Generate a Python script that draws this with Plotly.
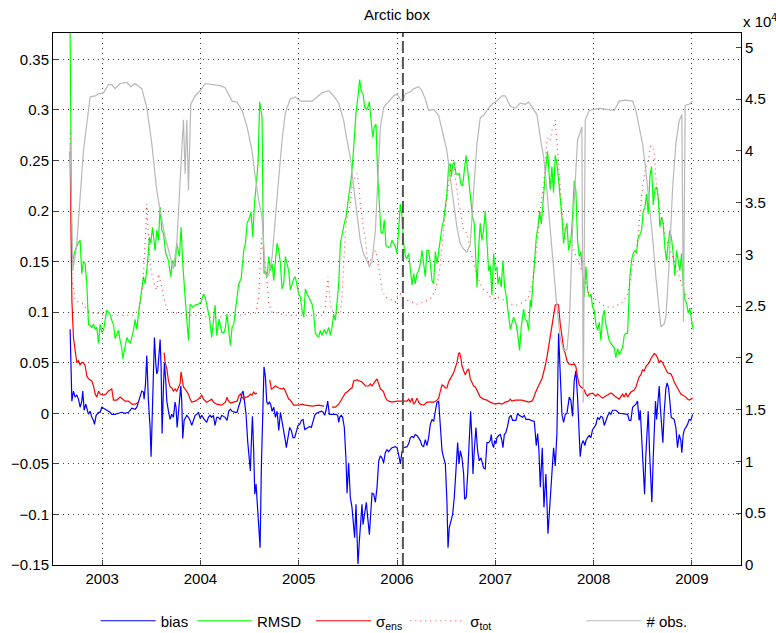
import plotly.graph_objects as go

# ---------------- data (decimal year, value) ----------------
bias = [
 (2002.674,0.083),(2002.692,0.012),(2002.708,0.022),(2002.725,0.016),(2002.742,0.018),(2002.759,0.014),
 (2002.776,0.006),(2002.793,0.012),(2002.803,0.022),(2002.817,0.003),(2002.834,0.009),(2002.844,0.006),
 (2002.861,-0.001),(2002.878,0.002),(2002.895,-0.004),(2002.912,-0.007),(2002.922,-0.011),(2002.939,-0.002),
 (2002.963,0.001),(2002.980,0.001),(2002.997,0.006),(2003.014,0.005),(2003.031,0.004),(2003.047,0.003),
 (2003.081,0.001),(2003.098,-0.001),(2003.132,-0.001),(2003.166,0.000),(2003.200,0.001),(2003.234,0.000),
 (2003.268,0.001),(2003.302,0.005),(2003.336,0.004),(2003.353,0.006),(2003.369,0.012),(2003.386,0.017),
 (2003.403,0.022),(2003.420,0.021),(2003.427,0.014),(2003.441,0.029),(2003.454,0.057),(2003.471,0.012),
 (2003.488,-0.014),(2003.498,-0.043),(2003.512,0.003),(2003.522,0.046),(2003.532,0.075),(2003.546,0.049),
 (2003.556,0.039),(2003.566,0.042),(2003.580,0.065),(2003.590,0.073),(2003.600,0.045),(2003.610,-0.020),
 (2003.624,0.027),(2003.634,0.050),(2003.647,0.032),(2003.658,0.012),(2003.675,0.002),(2003.692,-0.006),
 (2003.708,-0.001),(2003.725,-0.004),(2003.742,0.011),(2003.752,0.006),(2003.763,-0.014),(2003.776,-0.002),
 (2003.786,0.012),(2003.800,0.027),(2003.810,0.012),(2003.820,-0.025),(2003.834,-0.007),(2003.847,-0.004),
 (2003.861,-0.002),(2003.878,-0.004),(2003.895,-0.007),(2003.912,-0.012),(2003.929,-0.007),(2003.946,-0.002),
 (2003.963,-0.001),(2003.980,0.001),(2003.997,-0.005),(2004.014,-0.002),(2004.031,-0.005),(2004.047,-0.007),
 (2004.064,-0.009),(2004.081,-0.004),(2004.098,-0.002),(2004.115,-0.004),(2004.132,-0.002),(2004.149,-0.012),
 (2004.166,-0.004),(2004.183,-0.004),(2004.200,-0.006),(2004.217,-0.002),(2004.234,-0.003),(2004.251,-0.004),
 (2004.271,-0.007),(2004.288,0.002),(2004.305,0.004),(2004.322,0.002),(2004.356,0.001),(2004.373,0.001),
 (2004.390,0.007),(2004.407,0.012),(2004.424,0.020),(2004.434,0.022),(2004.448,0.012),(2004.464,-0.001),
 (2004.481,-0.028),(2004.498,-0.047),(2004.508,-0.057),(2004.519,-0.027),(2004.529,-0.003),(2004.542,-0.037),
 (2004.553,-0.080),(2004.566,-0.070),(2004.580,-0.090),(2004.593,-0.113),(2004.607,-0.133),(2004.620,-0.053),
 (2004.634,0.003),(2004.647,0.046),(2004.661,0.036),(2004.675,0.011),(2004.688,0.009),(2004.702,0.011),
 (2004.715,0.009),(2004.729,0.002),(2004.746,0.006),(2004.763,-0.004),(2004.780,0.002),(2004.797,-0.017),
 (2004.814,0.001),(2004.830,-0.007),(2004.847,-0.017),(2004.864,-0.027),(2004.874,-0.034),(2004.891,-0.024),
 (2004.908,-0.014),(2004.925,-0.017),(2004.942,-0.024),(2004.959,-0.024),(2004.976,-0.019),(2004.993,-0.012),
 (2005.010,-0.011),(2005.027,-0.007),(2005.044,-0.006),(2005.061,-0.016),(2005.095,-0.014),(2005.112,-0.013),
 (2005.129,-0.014),(2005.146,-0.007),(2005.163,-0.002),(2005.180,0.000),(2005.214,0.001),(2005.231,0.002),
 (2005.248,0.001),(2005.264,-0.002),(2005.278,0.003),(2005.295,0.012),(2005.312,-0.001),(2005.346,-0.001),
 (2005.380,-0.001),(2005.397,-0.002),(2005.407,-0.009),(2005.417,-0.004),(2005.434,-0.002),(2005.447,-0.004),
 (2005.464,-0.014),(2005.481,-0.046),(2005.492,-0.079),(2005.508,-0.049),(2005.525,-0.083),(2005.542,-0.093),
 (2005.556,-0.106),(2005.569,-0.123),(2005.583,-0.090),(2005.593,-0.120),(2005.603,-0.149),(2005.617,-0.126),
 (2005.630,-0.103),(2005.644,-0.090),(2005.654,-0.110),(2005.668,-0.100),(2005.678,-0.090),(2005.688,-0.088),
 (2005.702,-0.103),(2005.719,-0.120),(2005.732,-0.100),(2005.746,-0.079),(2005.763,-0.080),(2005.780,-0.088),
 (2005.797,-0.073),(2005.814,-0.047),(2005.831,-0.042),(2005.847,-0.044),(2005.864,-0.049),(2005.881,-0.039),
 (2005.898,-0.036),(2005.915,-0.038),(2005.932,-0.036),(2005.949,-0.034),(2005.983,-0.033),(2006.000,-0.034),
 (2006.017,-0.041),(2006.034,-0.050),(2006.051,-0.038),(2006.068,-0.034),(2006.102,-0.033),(2006.119,-0.030),
 (2006.136,-0.024),(2006.153,-0.023),(2006.169,-0.024),(2006.186,-0.021),(2006.203,-0.022),(2006.220,-0.025),
 (2006.237,-0.027),(2006.254,-0.032),(2006.271,-0.033),(2006.288,-0.026),(2006.305,-0.032),(2006.322,-0.024),
 (2006.339,-0.011),(2006.356,-0.006),(2006.373,-0.008),(2006.390,0.002),(2006.407,0.011),(2006.424,0.012),
 (2006.441,-0.008),(2006.458,-0.037),(2006.475,-0.044),(2006.492,-0.050),(2006.508,-0.087),(2006.519,-0.133),
 (2006.532,-0.113),(2006.549,-0.105),(2006.566,-0.100),(2006.583,-0.083),(2006.600,-0.057),(2006.617,-0.029),
 (2006.631,-0.050),(2006.644,-0.037),(2006.661,-0.044),(2006.678,-0.060),(2006.688,-0.085),(2006.705,-0.083),
 (2006.719,-0.060),(2006.736,-0.027),(2006.749,0.002),(2006.763,-0.027),(2006.773,-0.060),(2006.786,-0.037),
 (2006.803,-0.014),(2006.820,-0.037),(2006.837,-0.047),(2006.854,-0.044),(2006.868,-0.050),(2006.881,-0.054),
 (2006.898,-0.055),(2006.915,-0.029),(2006.932,-0.029),(2006.949,-0.027),(2006.959,-0.021),(2006.969,-0.030),
 (2006.983,-0.034),(2006.993,-0.027),(2007.007,-0.030),(2007.017,-0.024),(2007.034,-0.022),(2007.051,-0.021),
 (2007.068,-0.027),(2007.078,-0.034),(2007.092,-0.021),(2007.108,-0.019),(2007.125,-0.013),(2007.142,-0.004),
 (2007.159,-0.002),(2007.176,-0.007),(2007.210,-0.007),(2007.227,0.000),(2007.244,-0.002),(2007.278,-0.004),
 (2007.295,-0.002),(2007.312,-0.006),(2007.346,-0.006),(2007.363,-0.007),(2007.397,-0.008),(2007.407,-0.017),
 (2007.417,-0.032),(2007.431,-0.020),(2007.444,-0.037),(2007.458,-0.073),(2007.468,-0.043),(2007.478,-0.034),
 (2007.495,-0.093),(2007.505,-0.070),(2007.515,-0.060),(2007.525,-0.087),(2007.536,-0.119),(2007.549,-0.100),
 (2007.559,-0.087),(2007.576,-0.064),(2007.593,-0.034),(2007.610,-0.052),(2007.627,-0.020),(2007.644,0.079),
 (2007.661,0.039),(2007.678,-0.001),(2007.695,-0.009),(2007.712,-0.001),(2007.729,0.000),(2007.746,0.014),
 (2007.753,0.016),(2007.769,0.013),(2007.786,-0.003),(2007.803,0.032),(2007.820,0.042),(2007.837,0.016),
 (2007.854,-0.021),(2007.864,-0.043),(2007.878,-0.031),(2007.895,-0.027),(2007.912,-0.032),(2007.922,-0.027),
 (2007.939,-0.024),(2007.956,-0.022),(2007.973,-0.024),(2007.990,-0.016),(2008.007,-0.014),(2008.024,-0.011),
 (2008.041,-0.004),(2008.058,-0.006),(2008.075,-0.003),(2008.092,-0.004),(2008.109,-0.012),(2008.125,-0.007),
 (2008.142,-0.003),(2008.159,0.001),(2008.176,-0.001),(2008.193,0.003),(2008.227,0.003),(2008.261,0.000),
 (2008.346,-0.001),(2008.363,-0.007),(2008.380,-0.007),(2008.397,0.006),(2008.431,0.009),(2008.447,0.012),
 (2008.464,-0.007),(2008.475,0.003),(2008.488,-0.018),(2008.505,-0.053),(2008.519,-0.080),(2008.532,-0.041),
 (2008.546,-0.007),(2008.556,0.002),(2008.569,-0.037),(2008.583,-0.070),(2008.593,-0.088),(2008.607,-0.044),
 (2008.620,-0.004),(2008.630,0.012),(2008.641,-0.006),(2008.654,0.012),(2008.668,0.027),(2008.678,0.008),
 (2008.692,-0.011),(2008.705,-0.029),(2008.719,0.002),(2008.736,0.025),(2008.749,0.030),(2008.763,0.025),
 (2008.776,0.012),(2008.790,-0.004),(2008.820,-0.006),(2008.837,-0.014),(2008.854,-0.034),(2008.871,-0.021),
 (2008.888,-0.027),(2008.898,-0.039),(2008.912,-0.021),(2008.925,-0.016),(2008.939,-0.014),(2008.956,-0.011),
 (2008.973,-0.006),(2008.990,-0.007),(2009.007,-0.001),
]

rmsd = [
 (2002.674,0.380),(2002.692,0.148),(2002.725,0.161),(2002.759,0.169),(2002.776,0.171),(2002.793,0.138),
 (2002.810,0.150),(2002.827,0.148),(2002.844,0.128),(2002.861,0.088),(2002.878,0.087),(2002.895,0.085),
 (2002.912,0.088),(2002.929,0.083),(2002.946,0.085),(2002.963,0.069),(2002.980,0.088),(2002.997,0.080),
 (2003.014,0.082),(2003.031,0.095),(2003.047,0.102),(2003.064,0.100),(2003.081,0.098),(2003.098,0.092),
 (2003.115,0.088),(2003.132,0.074),(2003.149,0.078),(2003.166,0.082),(2003.183,0.072),(2003.200,0.064),
 (2003.210,0.054),(2003.234,0.069),(2003.251,0.075),(2003.268,0.072),(2003.285,0.069),(2003.302,0.075),
 (2003.319,0.082),(2003.336,0.093),(2003.353,0.083),(2003.369,0.098),(2003.386,0.112),(2003.403,0.125),
 (2003.420,0.135),(2003.437,0.128),(2003.461,0.148),(2003.481,0.174),(2003.495,0.168),(2003.512,0.184),
 (2003.539,0.161),(2003.556,0.181),(2003.573,0.171),(2003.590,0.204),(2003.607,0.181),(2003.624,0.178),
 (2003.647,0.158),(2003.675,0.151),(2003.698,0.135),(2003.715,0.151),(2003.742,0.145),(2003.759,0.168),
 (2003.786,0.155),(2003.803,0.184),(2003.820,0.148),(2003.844,0.115),(2003.861,0.095),(2003.878,0.072),
 (2003.895,0.108),(2003.922,0.105),(2003.946,0.107),(2003.980,0.108),(2004.007,0.110),(2004.031,0.118),
 (2004.047,0.115),(2004.071,0.105),(2004.091,0.095),(2004.115,0.075),(2004.149,0.107),(2004.166,0.077),
 (2004.190,0.093),(2004.217,0.080),(2004.241,0.080),(2004.254,0.085),(2004.271,0.098),(2004.288,0.082),
 (2004.305,0.067),(2004.322,0.085),(2004.339,0.088),(2004.356,0.102),(2004.390,0.128),(2004.414,0.133),
 (2004.441,0.161),(2004.458,0.168),(2004.475,0.188),(2004.498,0.193),(2004.515,0.199),(2004.532,0.174),
 (2004.549,0.207),(2004.566,0.224),(2004.586,0.247),(2004.603,0.308),(2004.617,0.300),(2004.627,0.293),
 (2004.637,0.194),(2004.647,0.138),(2004.661,0.141),(2004.678,0.135),(2004.695,0.155),(2004.712,0.141),
 (2004.729,0.148),(2004.746,0.131),(2004.763,0.151),(2004.780,0.168),(2004.797,0.161),(2004.814,0.148),
 (2004.830,0.123),(2004.847,0.128),(2004.864,0.155),(2004.881,0.148),(2004.898,0.141),(2004.915,0.122),
 (2004.932,0.128),(2004.949,0.133),(2004.966,0.135),(2004.983,0.125),(2005.000,0.118),(2005.017,0.115),
 (2005.034,0.102),(2005.051,0.095),(2005.068,0.123),(2005.085,0.118),(2005.102,0.115),(2005.119,0.112),
 (2005.136,0.108),(2005.153,0.098),(2005.169,0.079),(2005.186,0.077),(2005.203,0.075),(2005.220,0.082),
 (2005.237,0.077),(2005.261,0.083),(2005.281,0.078),(2005.305,0.085),(2005.322,0.077),(2005.339,0.085),
 (2005.356,0.098),(2005.373,0.092),(2005.407,0.128),(2005.424,0.168),(2005.441,0.178),(2005.464,0.188),
 (2005.481,0.194),(2005.502,0.210),(2005.519,0.220),(2005.536,0.234),(2005.553,0.254),(2005.569,0.280),
 (2005.583,0.297),(2005.603,0.313),(2005.620,0.330),(2005.637,0.318),(2005.654,0.316),(2005.671,0.303),
 (2005.688,0.300),(2005.705,0.303),(2005.719,0.308),(2005.736,0.290),(2005.753,0.273),(2005.769,0.283),
 (2005.786,0.286),(2005.803,0.237),(2005.820,0.200),(2005.837,0.179),(2005.854,0.178),(2005.871,0.191),
 (2005.888,0.166),(2005.915,0.164),(2005.932,0.165),(2005.949,0.171),(2005.966,0.168),(2005.983,0.165),
 (2006.000,0.158),(2006.017,0.181),(2006.034,0.207),(2006.051,0.194),(2006.068,0.168),(2006.085,0.155),
 (2006.102,0.153),(2006.119,0.158),(2006.136,0.145),(2006.153,0.127),(2006.169,0.138),(2006.186,0.128),
 (2006.203,0.138),(2006.220,0.141),(2006.237,0.148),(2006.254,0.161),(2006.271,0.148),(2006.288,0.135),
 (2006.305,0.161),(2006.322,0.161),(2006.339,0.148),(2006.356,0.131),(2006.373,0.128),(2006.390,0.160),
 (2006.407,0.148),(2006.424,0.160),(2006.441,0.174),(2006.458,0.184),(2006.475,0.191),(2006.492,0.204),
 (2006.508,0.217),(2006.525,0.244),(2006.542,0.247),(2006.553,0.234),(2006.569,0.247),(2006.583,0.248),
 (2006.600,0.237),(2006.617,0.236),(2006.634,0.237),(2006.651,0.226),(2006.668,0.225),(2006.685,0.240),
 (2006.702,0.255),(2006.719,0.240),(2006.736,0.224),(2006.753,0.202),(2006.769,0.194),(2006.786,0.188),
 (2006.803,0.155),(2006.814,0.125),(2006.831,0.164),(2006.847,0.188),(2006.864,0.171),(2006.881,0.181),
 (2006.898,0.200),(2006.915,0.168),(2006.932,0.141),(2006.949,0.146),(2006.966,0.117),(2006.983,0.158),
 (2007.000,0.141),(2007.017,0.145),(2007.027,0.128),(2007.044,0.135),(2007.061,0.125),(2007.078,0.151),
 (2007.095,0.125),(2007.112,0.115),(2007.129,0.102),(2007.153,0.083),(2007.186,0.095),(2007.210,0.089),
 (2007.227,0.079),(2007.247,0.062),(2007.264,0.085),(2007.288,0.103),(2007.305,0.093),(2007.322,0.091),
 (2007.339,0.082),(2007.356,0.112),(2007.366,0.105),(2007.383,0.128),(2007.400,0.155),(2007.417,0.174),
 (2007.434,0.184),(2007.451,0.200),(2007.468,0.187),(2007.485,0.210),(2007.502,0.224),(2007.515,0.244),
 (2007.532,0.259),(2007.549,0.231),(2007.559,0.221),(2007.576,0.244),(2007.593,0.218),(2007.610,0.255),
 (2007.627,0.247),(2007.644,0.231),(2007.661,0.214),(2007.678,0.194),(2007.695,0.168),(2007.712,0.181),
 (2007.729,0.188),(2007.746,0.161),(2007.769,0.171),(2007.786,0.194),(2007.803,0.230),(2007.820,0.220),
 (2007.837,0.171),(2007.854,0.155),(2007.871,0.160),(2007.888,0.141),(2007.905,0.115),(2007.922,0.145),
 (2007.939,0.122),(2007.956,0.115),(2007.973,0.118),(2007.990,0.105),(2008.007,0.102),(2008.024,0.088),
 (2008.041,0.082),(2008.058,0.090),(2008.075,0.072),(2008.092,0.095),(2008.109,0.102),(2008.125,0.088),
 (2008.142,0.079),(2008.159,0.072),(2008.176,0.069),(2008.193,0.067),(2008.210,0.065),(2008.227,0.055),
 (2008.244,0.064),(2008.261,0.058),(2008.278,0.062),(2008.295,0.065),(2008.312,0.077),(2008.329,0.079),
 (2008.346,0.079),(2008.356,0.112),(2008.369,0.135),(2008.386,0.151),(2008.403,0.158),(2008.420,0.161),
 (2008.437,0.158),(2008.454,0.174),(2008.471,0.176),(2008.488,0.181),(2008.505,0.200),(2008.522,0.203),
 (2008.539,0.217),(2008.556,0.197),(2008.573,0.234),(2008.590,0.244),(2008.607,0.206),(2008.624,0.221),
 (2008.641,0.224),(2008.658,0.214),(2008.675,0.184),(2008.692,0.194),(2008.708,0.188),(2008.725,0.164),
 (2008.742,0.151),(2008.759,0.168),(2008.776,0.181),(2008.793,0.173),(2008.810,0.158),(2008.827,0.136),
 (2008.844,0.161),(2008.861,0.151),(2008.878,0.141),(2008.895,0.158),(2008.912,0.128),(2008.929,0.112),
 (2008.946,0.109),(2008.963,0.099),(2008.980,0.104),(2008.997,0.092),(2009.014,0.083),
]

sigma_ens = [
 (2002.674,0.259),(2002.692,0.112),(2002.708,0.075),(2002.725,0.059),(2002.742,0.050),(2002.759,0.052),
 (2002.776,0.048),(2002.793,0.050),(2002.810,0.050),(2002.827,0.047),(2002.844,0.037),(2002.861,0.034),
 (2002.895,0.032),(2002.912,0.027),(2002.929,0.019),(2002.946,0.016),(2002.963,0.022),(2002.980,0.019),
 (2003.014,0.018),(2003.041,0.019),(2003.064,0.022),(2003.098,0.024),(2003.115,0.013),(2003.149,0.013),
 (2003.183,0.016),(2003.234,0.012),(2003.268,0.012),(2003.302,0.009),(2003.336,0.009),(2003.369,0.011),
 (2003.500,None),
 (2003.630,0.060),(2003.641,0.050),(2003.658,0.044),(2003.675,0.032),(2003.692,0.026),(2003.708,0.025),
 (2003.725,0.022),(2003.742,0.024),(2003.759,0.022),(2003.776,0.026),(2003.793,0.029),(2003.803,0.041),
 (2003.813,0.036),(2003.827,0.026),(2003.844,0.024),(2003.861,0.022),(2003.878,0.019),(2003.895,0.014),
 (2003.912,0.011),(2003.946,0.012),(2003.980,0.014),(2003.997,0.016),(2004.014,0.018),(2004.031,0.014),
 (2004.064,0.011),(2004.098,0.013),(2004.115,0.014),(2004.132,0.011),(2004.166,0.009),(2004.217,0.008),
 (2004.241,0.010),(2004.254,0.011),(2004.271,0.016),(2004.281,0.013),(2004.305,0.010),(2004.339,0.011),
 (2004.373,0.012),(2004.390,0.017),(2004.407,0.019),(2004.424,0.016),(2004.441,0.014),(2004.458,0.016),
 (2004.475,0.016),(2004.492,0.017),(2004.508,0.019),(2004.525,0.018),(2004.542,0.021),(2004.559,0.019),
 (2004.576,0.020),
 (2004.640,None),
 (2004.705,0.033),(2004.722,0.024),(2004.739,0.025),(2004.763,0.027),(2004.780,0.026),(2004.797,0.025),
 (2004.830,0.024),(2004.847,0.025),(2004.864,0.022),(2004.881,0.017),(2004.898,0.014),(2004.915,0.013),
 (2004.932,0.011),(2004.949,0.008),(2005.000,0.008),(2005.034,0.009),(2005.068,0.008),(2005.136,0.007),
 (2005.203,0.008),(2005.258,0.007),
 (2005.300,None),
 (2005.339,0.006),(2005.373,0.006),(2005.407,0.009),(2005.424,0.012),(2005.441,0.015),(2005.458,0.018),
 (2005.475,0.020),(2005.492,0.021),(2005.508,0.023),(2005.525,0.024),(2005.542,0.025),(2005.559,0.032),
 (2005.593,0.033),(2005.627,0.032),(2005.644,0.031),(2005.661,0.029),(2005.678,0.027),(2005.712,0.027),
 (2005.729,0.029),(2005.746,0.027),(2005.763,0.030),(2005.780,0.032),(2005.797,0.034),(2005.814,0.029),
 (2005.831,0.024),(2005.847,0.023),(2005.864,0.021),(2005.881,0.016),(2005.898,0.013),(2005.915,0.012),
 (2005.949,0.011),(2006.000,0.012),(2006.102,0.012),(2006.119,0.014),(2006.136,0.011),(2006.153,0.015),
 (2006.169,0.009),(2006.186,0.011),(2006.203,0.015),(2006.220,0.011),(2006.237,0.009),(2006.271,0.008),
 (2006.305,0.011),(2006.339,0.011),(2006.373,0.011),(2006.407,0.013),(2006.424,0.015),(2006.441,0.022),
 (2006.458,0.028),(2006.475,0.027),(2006.492,0.025),(2006.508,0.025),(2006.525,0.031),(2006.542,0.034),
 (2006.559,0.037),(2006.576,0.040),(2006.593,0.045),(2006.610,0.050),(2006.627,0.059),(2006.637,0.060),
 (2006.651,0.054),(2006.661,0.047),(2006.678,0.042),(2006.695,0.038),(2006.712,0.042),(2006.729,0.044),
 (2006.746,0.034),(2006.763,0.031),(2006.780,0.027),(2006.797,0.026),(2006.814,0.022),(2006.831,0.018),
 (2006.847,0.016),(2006.881,0.014),(2006.915,0.013),(2006.949,0.011),(2007.000,0.009),(2007.034,0.010),
 (2007.068,0.009),(2007.102,0.011),(2007.136,0.012),(2007.153,0.014),(2007.169,0.012),(2007.203,0.013),
 (2007.237,0.013),(2007.271,0.013),(2007.305,0.012),(2007.339,0.011),(2007.373,0.012),(2007.390,0.015),
 (2007.407,0.020),(2007.424,0.024),(2007.441,0.028),(2007.458,0.031),(2007.475,0.034),(2007.492,0.040),
 (2007.508,0.047),(2007.525,0.055),(2007.542,0.065),(2007.559,0.075),(2007.576,0.087),(2007.593,0.097),
 (2007.610,0.107),(2007.627,0.108),(2007.644,0.107),(2007.661,0.088),(2007.678,0.075),(2007.695,0.065),
 (2007.712,0.059),(2007.729,0.052),(2007.746,0.049),(2007.786,0.048),(2007.803,0.049),(2007.820,0.046),
 (2007.837,0.036),(2007.854,0.028),(2007.871,0.026),(2007.888,0.025),(2007.905,0.023),(2007.922,0.019),
 (2007.939,0.017),(2007.956,0.019),(2007.990,0.020),(2008.024,0.017),(2008.041,0.019),(2008.075,0.016),
 (2008.092,0.015),(2008.125,0.017),(2008.159,0.019),(2008.176,0.020),(2008.193,0.019),(2008.227,0.016),
 (2008.261,0.014),(2008.295,0.019),(2008.312,0.016),(2008.329,0.020),(2008.346,0.016),(2008.380,0.021),
 (2008.414,0.023),(2008.431,0.026),(2008.447,0.031),(2008.464,0.036),(2008.481,0.038),(2008.498,0.043),
 (2008.515,0.042),(2008.532,0.046),(2008.549,0.048),(2008.566,0.050),(2008.583,0.054),(2008.600,0.057),
 (2008.617,0.059),(2008.634,0.058),(2008.651,0.055),(2008.668,0.050),(2008.685,0.052),(2008.702,0.050),
 (2008.719,0.047),(2008.736,0.044),(2008.753,0.040),(2008.786,0.039),(2008.803,0.036),(2008.820,0.031),
 (2008.837,0.028),(2008.854,0.024),(2008.871,0.021),(2008.888,0.019),(2008.905,0.018),(2008.922,0.017),
 (2008.939,0.016),(2008.956,0.014),(2008.973,0.013),(2008.990,0.014),(2009.007,0.015),
]

sigma_tot = [
 (2002.674,0.277),(2002.692,0.131),(2002.708,0.125),(2002.725,0.112),(2002.759,0.110),(2002.810,0.108),
 (2002.844,0.102),(2002.895,0.099),(2002.946,0.099),(2003.014,0.097),(2003.081,0.097),(2003.166,0.097),
 (2003.251,0.097),(2003.319,0.097),(2003.369,0.102),(2003.393,0.112),(2003.413,0.125),(2003.427,0.148),
 (2003.444,0.181),(2003.454,0.207),(2003.471,0.174),(2003.488,0.148),(2003.505,0.138),(2003.522,0.131),
 (2003.539,0.125),(2003.556,0.122),(2003.573,0.138),(2003.590,0.131),(2003.607,0.125),(2003.624,0.115),
 (2003.658,0.103),(2003.725,0.099),(2003.793,0.099),(2003.861,0.097),(2003.929,0.097),(2003.997,0.097),
 (2004.064,0.095),(2004.132,0.095),(2004.200,0.095),(2004.254,0.097),(2004.390,0.097),(2004.559,0.099),
 (2004.593,0.115),(2004.610,0.148),(2004.620,0.173),(2004.634,0.161),(2004.651,0.155),(2004.661,0.148),
 (2004.678,0.128),(2004.695,0.108),(2004.729,0.100),(2004.797,0.099),(2004.864,0.097),(2004.932,0.097),
 (2005.034,0.097),(2005.136,0.097),(2005.237,0.097),(2005.271,0.105),(2005.288,0.125),(2005.298,0.135),
 (2005.312,0.118),(2005.329,0.102),(2005.373,0.099),(2005.424,0.099),(2005.441,0.115),(2005.458,0.155),
 (2005.475,0.181),(2005.492,0.194),(2005.508,0.201),(2005.525,0.207),(2005.542,0.224),(2005.559,0.230),
 (2005.576,0.234),(2005.593,0.237),(2005.610,0.227),(2005.627,0.207),(2005.644,0.194),(2005.661,0.181),
 (2005.678,0.174),(2005.695,0.155),(2005.712,0.148),(2005.729,0.151),(2005.746,0.155),(2005.763,0.158),
 (2005.780,0.161),(2005.797,0.155),(2005.814,0.145),(2005.831,0.131),(2005.848,0.122),(2005.881,0.115),
 (2005.915,0.113),(2005.949,0.112),(2005.983,0.110),(2006.000,0.115),(2006.034,0.118),(2006.068,0.113),
 (2006.102,0.112),(2006.153,0.110),(2006.203,0.108),(2006.271,0.110),(2006.322,0.112),(2006.356,0.115),
 (2006.390,0.122),(2006.424,0.135),(2006.441,0.148),(2006.475,0.181),(2006.492,0.201),(2006.508,0.214),
 (2006.525,0.227),(2006.542,0.240),(2006.559,0.250),(2006.576,0.249),(2006.593,0.237),(2006.610,0.221),
 (2006.627,0.207),(2006.644,0.201),(2006.661,0.191),(2006.678,0.181),(2006.712,0.178),(2006.729,0.168),
 (2006.746,0.161),(2006.780,0.148),(2006.814,0.138),(2006.847,0.128),(2006.881,0.122),(2006.915,0.120),
 (2006.949,0.115),(2006.983,0.113),(2007.017,0.115),(2007.085,0.112),(2007.153,0.108),(2007.220,0.107),
 (2007.288,0.110),(2007.339,0.115),(2007.373,0.128),(2007.407,0.148),(2007.424,0.168),(2007.441,0.188),
 (2007.458,0.201),(2007.475,0.214),(2007.492,0.224),(2007.508,0.247),(2007.525,0.270),(2007.542,0.273),
 (2007.559,0.270),(2007.576,0.280),(2007.593,0.283),(2007.610,0.290),(2007.627,0.267),(2007.644,0.240),
 (2007.661,0.221),(2007.678,0.201),(2007.695,0.188),(2007.712,0.174),(2007.729,0.170),(2007.753,0.170),
 (2007.786,0.166),(2007.820,0.155),(2007.854,0.148),(2007.888,0.138),(2007.922,0.128),(2007.956,0.118),
 (2007.990,0.115),(2008.024,0.112),(2008.058,0.110),(2008.092,0.107),(2008.142,0.105),(2008.193,0.105),
 (2008.244,0.107),(2008.278,0.108),(2008.312,0.112),(2008.346,0.118),(2008.363,0.125),(2008.380,0.135),
 (2008.397,0.148),(2008.414,0.155),(2008.431,0.161),(2008.447,0.168),(2008.464,0.188),(2008.481,0.207),
 (2008.498,0.224),(2008.515,0.234),(2008.532,0.244),(2008.549,0.247),(2008.566,0.254),(2008.583,0.264),
 (2008.600,0.264),(2008.617,0.257),(2008.634,0.231),(2008.651,0.217),(2008.668,0.204),(2008.685,0.196),
 (2008.702,0.191),(2008.719,0.181),(2008.736,0.171),(2008.753,0.168),(2008.769,0.165),(2008.803,0.155),
 (2008.837,0.146),(2008.871,0.135),(2008.905,0.125),(2008.939,0.117),(2008.973,0.113),(2009.007,0.112),
]

n_obs = [
 (2002.674,40700),(2002.702,28400),(2002.742,31000),(2002.810,40000),(2002.878,45200),(2002.929,45300),
 (2002.963,45500),(2003.014,45600),(2003.064,46400),(2003.098,46400),(2003.132,46000),(2003.183,46500),
 (2003.251,46600),(2003.292,46200),(2003.336,46500),(2003.403,46000),(2003.454,44200),(2003.505,40700),
 (2003.556,36200),(2003.590,34200),(2003.641,31700),(2003.692,29700),(2003.725,28600),(2003.759,31000),
 (2003.810,40000),(2003.827,43000),(2003.844,37800),(2003.861,43000),(2003.878,36200),(2003.902,44500),
 (2003.946,45300),(2003.997,45800),(2004.047,46500),(2004.132,46400),(2004.200,46300),(2004.251,46100),
 (2004.322,44800),(2004.373,44700),(2004.424,43900),(2004.475,42300),(2004.525,40000),(2004.559,37400),
 (2004.593,35200),(2004.627,33600),(2004.661,28100),(2004.695,28000),(2004.729,29700),(2004.780,35500),
 (2004.830,41000),(2004.864,43700),(2004.915,45000),(2004.966,45200),(2005.017,44800),(2005.068,44800),
 (2005.136,44800),(2005.186,45200),(2005.237,45600),(2005.305,45800),(2005.356,45300),(2005.407,44600),
 (2005.458,42900),(2005.492,41000),(2005.525,39400),(2005.559,36500),(2005.593,33600),(2005.627,31300),
 (2005.661,30000),(2005.695,29400),(2005.719,28800),(2005.746,29400),(2005.780,32300),(2005.807,37800),
 (2005.831,42300),(2005.864,44200),(2005.915,44700),(2005.966,45300),(2006.000,45500),(2006.051,44700),
 (2006.085,45500),(2006.136,45700),(2006.169,46000),(2006.220,46200),(2006.254,45800),(2006.288,45000),
 (2006.322,43900),(2006.373,44000),(2006.424,43400),(2006.458,41900),(2006.508,40000),(2006.542,37400),
 (2006.576,34900),(2006.610,32600),(2006.644,31000),(2006.678,30500),(2006.712,30200),(2006.746,31000),
 (2006.780,36200),(2006.814,40700),(2006.847,43200),(2006.881,43400),(2006.915,43900),(2006.966,44500),
 (2007.017,44800),(2007.068,45300),(2007.102,45300),(2007.153,44300),(2007.203,44100),(2007.254,44600),
 (2007.305,44500),(2007.339,44700),(2007.390,44000),(2007.424,43500),(2007.458,41300),(2007.492,39400),
 (2007.525,36200),(2007.559,32300),(2007.593,28400),(2007.627,24900),(2007.661,22000),(2007.695,20700),
 (2007.729,20800),(2007.753,23300),(2007.786,32300),(2007.837,41000),(2007.881,42300),(2007.895,15700),
 (2007.915,43000),(2007.956,43900),(2008.058,44100),(2008.125,44000),(2008.210,43900),(2008.261,44800),
 (2008.329,44900),(2008.397,44800),(2008.431,43900),(2008.464,42300),(2008.498,40700),(2008.532,38100),
 (2008.566,35200),(2008.600,31700),(2008.634,27800),(2008.668,24600),(2008.685,23000),(2008.719,23300),
 (2008.736,24000),(2008.769,29100),(2008.803,36200),(2008.837,40700),(2008.871,42900),(2008.898,43500),
 (2008.915,23500),(2008.932,44400),(2008.973,44500),(2009.007,44800),
]

year_ticks = [2003, 2004, 2005, 2006, 2007, 2008, 2009]
left_ticks = [-0.15, -0.1, -0.05, 0, 0.05, 0.1, 0.15, 0.2, 0.25, 0.3, 0.35]
left_labels = ["\u22120.15", "\u22120.1", "\u22120.05", "0", "0.05", "0.1", "0.15", "0.2", "0.25", "0.3", "0.35"]
right_ticks = [0, 5000, 10000, 15000, 20000, 25000, 30000, 35000, 40000, 45000, 50000]
right_labels = ["0", "0.5", "1", "1.5", "2", "2.5", "3", "3.5", "4", "4.5", "5"]
event_year = 2006.06

FONT = "Liberation Sans, Arial, Helvetica, sans-serif"


def xy(pairs):
    return [p[0] for p in pairs], [p[1] for p in pairs]


fig = go.Figure()

tx, vy = xy(bias)
fig.add_trace(go.Scatter(x=tx, y=vy, mode="lines", name="bias",
                         line=dict(color="#0000ff", width=1.2), legend="legend"))
tx, vy = xy(rmsd)
fig.add_trace(go.Scatter(x=tx, y=vy, mode="lines", name="RMSD",
                         line=dict(color="#00ff00", width=1.2), legend="legend2"))
tx, vy = xy(sigma_ens)
fig.add_trace(go.Scatter(x=tx, y=vy, mode="lines", name="\u03c3<sub>ens</sub>", connectgaps=False,
                         line=dict(color="#ff0000", width=1.2), legend="legend3"))
tx, vy = xy(sigma_tot)
fig.add_trace(go.Scatter(x=tx, y=vy, mode="lines", name="\u03c3<sub>tot</sub>",
                         line=dict(color="rgba(255,30,30,0.85)", width=1.1, dash="1px,4px"), legend="legend4"))
tx, vy = xy(n_obs)
fig.add_trace(go.Scatter(x=tx, y=vy, mode="lines", name="# obs.", yaxis="y2",
                         line=dict(color="#b8b8b8", width=1.2), legend="legend5"))

fig.add_shape(type="line", xref="x", yref="paper", x0=event_year, x1=event_year, y0=0, y1=1,
              line=dict(color="#555555", width=2, dash="12px,4px"))

grid = dict(showgrid=True, gridcolor="rgba(0,0,0,0.75)", griddash="1px,4px", gridwidth=1)

fig.update_layout(
    width=776, height=633, autosize=False,
    margin=dict(l=53, r=35, t=33, b=68, autoexpand=False),
    paper_bgcolor="white", plot_bgcolor="white",
    font=dict(family=FONT, size=15, color="black"),
    title=dict(text="Arctic box", x=0.5, xref="paper", xanchor="center",
               y=1 - 15 / 633, yanchor="middle", font=dict(size=15)),
    xaxis=dict(range=[2002.5, 2009.5], tickmode="array", tickvals=year_ticks,
               ticktext=[str(y) for y in year_ticks], ticks="inside", ticklen=5,
               showline=True, linecolor="black", linewidth=1, mirror=True, zeroline=False, **grid),
    yaxis=dict(range=[-0.15, 0.376], tickmode="array", tickvals=left_ticks, ticktext=left_labels,
               ticks="inside", ticklen=5, showline=True, linecolor="black", linewidth=1,
               mirror=True, zeroline=False, **grid),
    yaxis2=dict(range=[0, 51380], overlaying="y", side="right", tickmode="array",
                tickvals=right_ticks, ticktext=right_labels, ticks="inside", ticklen=5,
                showline=True, linecolor="black", linewidth=1, showgrid=False, zeroline=False),
    showlegend=True,
)

leg_common = dict(orientation="h", yref="container", yanchor="middle", y=1 - 621 / 633,
                  xanchor="left", bgcolor="rgba(0,0,0,0)", itemwidth=55, font=dict(size=15))
fig.update_layout(
    legend=dict(x=0.062, **leg_common),
    legend2=dict(x=0.202, **leg_common),
    legend3=dict(x=0.375, **leg_common),
    legend4=dict(x=0.512, **leg_common),
    legend5=dict(x=0.768, **leg_common),
)

fig.add_annotation(text="x 10<sup>4</sup>", xref="paper", yref="paper", x=1.0, y=1 + 13 / 532,
                   xanchor="left", yanchor="middle", showarrow=False, font=dict(size=15))

fig.write_html("out.html")
